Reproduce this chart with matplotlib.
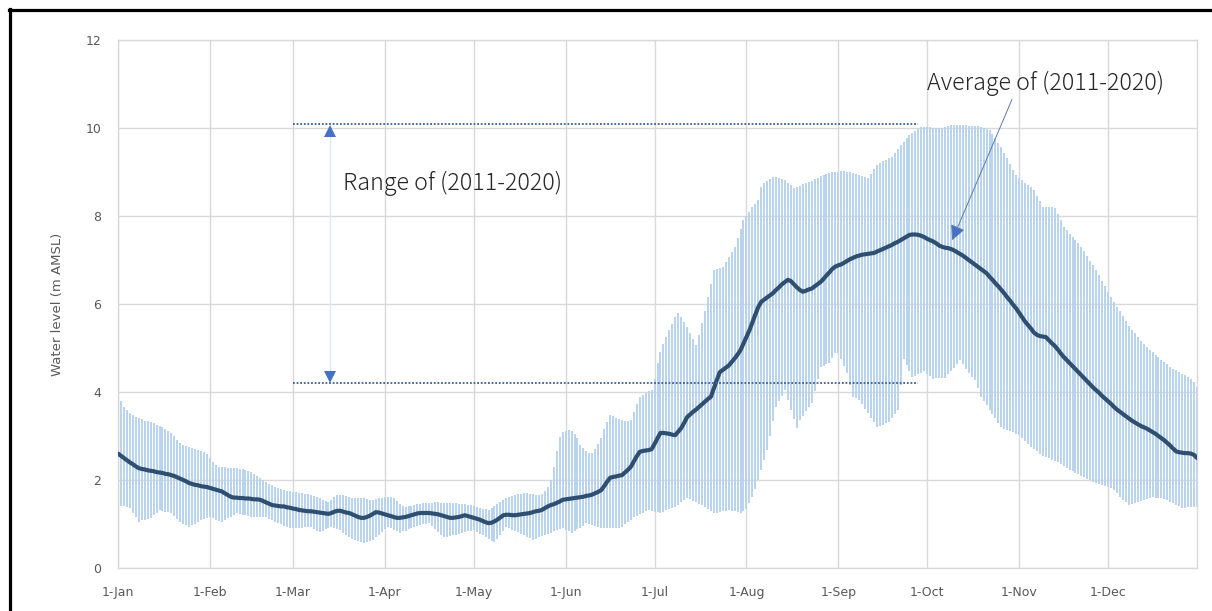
import matplotlib
matplotlib.use("Agg")
import matplotlib.pyplot as plt
import matplotlib.dates as mdates
from matplotlib.lines import Line2D
from matplotlib.ticker import FuncFormatter
import numpy as np
import pandas as pd

# daily water level statistics over 2011-2020, one value per calendar day
dates = pd.date_range("2021-01-01", "2021-12-31", freq="D")

level_avg = [
    # Jan
    2.60, 2.55, 2.50, 2.45, 2.40, 2.36, 2.31, 2.27, 2.25, 2.24, 2.22, 2.21, 2.20, 2.18, 2.17, 2.16,
    2.14, 2.13, 2.11, 2.09, 2.06, 2.03, 2.00, 1.97, 1.93, 1.91, 1.89, 1.88, 1.86, 1.85, 1.84,
    # Feb
    1.82, 1.80, 1.78, 1.76, 1.74, 1.70, 1.66, 1.62, 1.60, 1.60, 1.59, 1.59, 1.58, 1.58, 1.57, 1.56,
    1.56, 1.55, 1.52, 1.49, 1.46, 1.43, 1.42, 1.41, 1.40, 1.40, 1.38, 1.37,
    # Mar
    1.35, 1.34, 1.32, 1.31, 1.30, 1.29, 1.29, 1.28, 1.27, 1.26, 1.25, 1.24, 1.23, 1.25, 1.28, 1.30,
    1.30, 1.28, 1.26, 1.25, 1.22, 1.19, 1.16, 1.14, 1.14, 1.16, 1.19, 1.23, 1.27, 1.26, 1.24,
    # Apr
    1.22, 1.20, 1.18, 1.16, 1.14, 1.14, 1.15, 1.16, 1.18, 1.20, 1.22, 1.24, 1.25, 1.25, 1.25, 1.25,
    1.24, 1.23, 1.22, 1.20, 1.18, 1.16, 1.14, 1.14, 1.15, 1.16, 1.18, 1.20, 1.18, 1.16,
    # May
    1.14, 1.12, 1.10, 1.07, 1.04, 1.02, 1.03, 1.06, 1.10, 1.15, 1.20, 1.21, 1.21, 1.20, 1.20, 1.21,
    1.22, 1.23, 1.24, 1.25, 1.27, 1.29, 1.30, 1.32, 1.36, 1.40, 1.43, 1.45, 1.48, 1.51, 1.55,
    # Jun
    1.56, 1.57, 1.58, 1.59, 1.60, 1.61, 1.62, 1.64, 1.65, 1.67, 1.70, 1.73, 1.77, 1.86, 1.96, 2.05,
    2.07, 2.08, 2.10, 2.11, 2.17, 2.23, 2.30, 2.42, 2.54, 2.64, 2.66, 2.67, 2.68, 2.70,
    # Jul
    2.82, 2.95, 3.07, 3.07, 3.06, 3.05, 3.03, 3.02, 3.10, 3.18, 3.30, 3.43, 3.49, 3.55, 3.60, 3.66,
    3.72, 3.78, 3.84, 3.89, 4.08, 4.27, 4.45, 4.50, 4.55, 4.60, 4.68, 4.76, 4.85, 4.95, 5.10,
    # Aug
    5.25, 5.40, 5.58, 5.76, 5.93, 6.05, 6.10, 6.15, 6.20, 6.25, 6.32, 6.38, 6.45, 6.50, 6.55, 6.52,
    6.45, 6.38, 6.32, 6.28, 6.30, 6.33, 6.35, 6.40, 6.45, 6.50, 6.57, 6.65, 6.72, 6.80, 6.85,
    # Sep
    6.88, 6.90, 6.94, 6.98, 7.02, 7.05, 7.08, 7.10, 7.12, 7.13, 7.14, 7.15, 7.16, 7.19, 7.22, 7.25,
    7.28, 7.31, 7.34, 7.38, 7.41, 7.45, 7.49, 7.53, 7.57, 7.58, 7.58, 7.57, 7.55, 7.52,
    # Oct
    7.48, 7.45, 7.42, 7.38, 7.33, 7.30, 7.28, 7.27, 7.25, 7.22, 7.18, 7.14, 7.10, 7.05, 7.00, 6.95,
    6.90, 6.85, 6.80, 6.75, 6.70, 6.62, 6.55, 6.47, 6.40, 6.32, 6.24, 6.15, 6.07, 5.98, 5.90,
    # Nov
    5.80, 5.70, 5.60, 5.52, 5.44, 5.35, 5.30, 5.27, 5.26, 5.25, 5.18, 5.11, 5.05, 4.97, 4.88, 4.80,
    4.73, 4.66, 4.59, 4.52, 4.45, 4.38, 4.31, 4.24, 4.17, 4.10, 4.04, 3.98, 3.91, 3.85,
    # Dec
    3.79, 3.73, 3.66, 3.60, 3.55, 3.50, 3.45, 3.40, 3.35, 3.31, 3.27, 3.23, 3.20, 3.17, 3.13, 3.09,
    3.05, 3.00, 2.95, 2.90, 2.84, 2.78, 2.71, 2.65, 2.63, 2.62, 2.61, 2.61, 2.60, 2.57, 2.50,
]

level_max = [
    # Jan
    3.93, 3.80, 3.66, 3.58, 3.52, 3.48, 3.44, 3.40, 3.38, 3.35, 3.33, 3.32, 3.30, 3.26, 3.23, 3.20,
    3.16, 3.12, 3.07, 3.00, 2.92, 2.84, 2.80, 2.78, 2.75, 2.73, 2.71, 2.69, 2.67, 2.64, 2.58,
    # Feb
    2.50, 2.42, 2.35, 2.30, 2.30, 2.29, 2.28, 2.28, 2.27, 2.27, 2.26, 2.25, 2.23, 2.20, 2.18, 2.14,
    2.10, 2.05, 2.00, 1.96, 1.92, 1.88, 1.85, 1.82, 1.80, 1.78, 1.76, 1.75,
    # Mar
    1.73, 1.72, 1.71, 1.70, 1.69, 1.68, 1.66, 1.64, 1.62, 1.58, 1.55, 1.52, 1.50, 1.55, 1.62, 1.66,
    1.67, 1.66, 1.64, 1.62, 1.60, 1.60, 1.59, 1.59, 1.58, 1.56, 1.55, 1.55, 1.57, 1.58, 1.60,
    # Apr
    1.61, 1.62, 1.62, 1.58, 1.52, 1.46, 1.42, 1.39, 1.40, 1.42, 1.44, 1.45, 1.46, 1.47, 1.48, 1.48,
    1.48, 1.49, 1.49, 1.48, 1.48, 1.48, 1.48, 1.47, 1.47, 1.46, 1.46, 1.45, 1.44, 1.43,
    # May
    1.41, 1.39, 1.37, 1.35, 1.33, 1.32, 1.36, 1.41, 1.46, 1.50, 1.55, 1.59, 1.62, 1.64, 1.66, 1.68,
    1.69, 1.70, 1.70, 1.69, 1.68, 1.67, 1.66, 1.68, 1.75, 1.85, 2.00, 2.30, 2.65, 2.98, 3.08,
    # Jun
    3.12, 3.14, 3.12, 3.05, 2.95, 2.80, 2.72, 2.66, 2.62, 2.61, 2.70, 2.82, 2.95, 3.15, 3.32, 3.48,
    3.46, 3.42, 3.38, 3.36, 3.35, 3.35, 3.36, 3.55, 3.72, 3.89, 3.94, 3.98, 4.02, 4.05,
    # Jul
    4.30, 4.66, 4.90, 5.08, 5.25, 5.40, 5.55, 5.70, 5.80, 5.70, 5.60, 5.48, 5.35, 5.20, 5.07, 5.30,
    5.57, 5.85, 6.15, 6.45, 6.77, 6.80, 6.82, 6.84, 6.95, 7.07, 7.18, 7.30, 7.50, 7.70, 7.90,
    # Aug
    8.00, 8.10, 8.20, 8.28, 8.36, 8.66, 8.74, 8.80, 8.85, 8.89, 8.88, 8.86, 8.84, 8.82, 8.76, 8.70,
    8.64, 8.66, 8.69, 8.72, 8.74, 8.77, 8.80, 8.83, 8.86, 8.90, 8.93, 8.95, 8.97, 8.99, 9.00,
    # Sep
    9.01, 9.02, 9.02, 9.01, 9.00, 8.98, 8.96, 8.93, 8.90, 8.88, 8.86, 8.96, 9.06, 9.16, 9.20, 9.24,
    9.28, 9.31, 9.34, 9.43, 9.52, 9.61, 9.69, 9.77, 9.84, 9.89, 9.94, 9.98, 10.02, 10.03,
    # Oct
    10.03, 10.02, 10.01, 10.00, 10.00, 10.00, 10.02, 10.04, 10.06, 10.07, 10.07, 10.07, 10.06, 10.06,
    10.05, 10.05, 10.05, 10.04, 10.03, 10.01, 9.98, 9.95, 9.86, 9.77, 9.67, 9.57, 9.44, 9.31, 9.18,
    9.05, 8.93,
    # Nov
    8.87, 8.81, 8.75, 8.70, 8.65, 8.59, 8.46, 8.33, 8.20, 8.20, 8.21, 8.20, 8.18, 8.04, 7.90, 7.75,
    7.68, 7.60, 7.52, 7.45, 7.38, 7.30, 7.20, 7.09, 6.98, 6.88, 6.77, 6.65, 6.53, 6.40,
    # Dec
    6.28, 6.16, 6.05, 5.94, 5.83, 5.72, 5.62, 5.51, 5.41, 5.33, 5.25, 5.17, 5.10, 5.03, 4.95, 4.90,
    4.84, 4.79, 4.73, 4.68, 4.63, 4.57, 4.53, 4.49, 4.46, 4.42, 4.38, 4.34, 4.30, 4.22, 4.11,
]

level_min = [
    # Jan
    1.43, 1.41, 1.40, 1.38, 1.36, 1.25, 1.15, 1.05, 1.08, 1.10, 1.12, 1.14, 1.20, 1.26, 1.32, 1.30,
    1.28, 1.27, 1.25, 1.18, 1.11, 1.05, 1.01, 0.97, 0.93, 0.97, 1.01, 1.05, 1.09, 1.11, 1.14,
    # Feb
    1.16, 1.13, 1.10, 1.07, 1.05, 1.09, 1.13, 1.17, 1.21, 1.25, 1.23, 1.21, 1.20, 1.18, 1.16, 1.16,
    1.16, 1.16, 1.16, 1.16, 1.12, 1.09, 1.05, 1.02, 0.99, 0.96, 0.94, 0.92,
    # Mar
    0.91, 0.91, 0.92, 0.92, 0.93, 0.93, 0.93, 0.89, 0.85, 0.82, 0.85, 0.88, 0.91, 0.93, 0.91, 0.88,
    0.86, 0.80, 0.75, 0.70, 0.67, 0.64, 0.61, 0.59, 0.57, 0.59, 0.61, 0.64, 0.70, 0.76, 0.82,
    # Apr
    0.88, 0.93, 0.90, 0.87, 0.84, 0.80, 0.83, 0.85, 0.88, 0.90, 0.93, 0.95, 0.97, 0.99, 1.00, 1.02,
    0.95, 0.88, 0.81, 0.75, 0.70, 0.71, 0.72, 0.74, 0.75, 0.77, 0.79, 0.81, 0.83, 0.85,
    # May
    0.86, 0.82, 0.78, 0.74, 0.70, 0.66, 0.62, 0.59, 0.67, 0.76, 0.85, 0.93, 0.90, 0.87, 0.84, 0.81,
    0.78, 0.75, 0.71, 0.68, 0.64, 0.67, 0.70, 0.72, 0.75, 0.77, 0.80, 0.83, 0.86, 0.88, 0.91,
    # Jun
    0.87, 0.84, 0.80, 0.84, 0.88, 0.92, 0.96, 1.02, 1.00, 0.98, 0.96, 0.94, 0.92, 0.91, 0.91, 0.91,
    0.92, 0.92, 0.92, 0.93, 0.99, 1.04, 1.10, 1.16, 1.19, 1.22, 1.26, 1.29, 1.32, 1.30,
    # Jul
    1.28, 1.27, 1.25, 1.28, 1.31, 1.34, 1.36, 1.39, 1.44, 1.49, 1.54, 1.59, 1.56, 1.53, 1.49, 1.46,
    1.43, 1.39, 1.35, 1.30, 1.25, 1.26, 1.28, 1.29, 1.30, 1.32, 1.30, 1.29, 1.27, 1.25, 1.30,
    # Aug
    1.35, 1.48, 1.61, 1.80, 2.00, 2.23, 2.45, 2.68, 3.00, 3.33, 3.66, 3.79, 3.92, 4.05, 3.82, 3.59,
    3.38, 3.18, 3.36, 3.46, 3.56, 3.65, 3.75, 4.02, 4.30, 4.57, 4.60, 4.63, 4.66, 4.78, 4.89,
    # Sep
    4.89, 4.75, 4.60, 4.43, 4.16, 3.89, 3.86, 3.82, 3.72, 3.62, 3.52, 3.41, 3.31, 3.20, 3.23, 3.26,
    3.29, 3.32, 3.41, 3.50, 3.60, 4.15, 4.75, 4.61, 4.48, 4.34, 4.37, 4.40, 4.44, 4.47,
    # Oct
    4.41, 4.36, 4.30, 4.31, 4.31, 4.32, 4.32, 4.40, 4.47, 4.55, 4.64, 4.73, 4.63, 4.53, 4.43, 4.35,
    4.27, 4.08, 3.89, 3.79, 3.70, 3.60, 3.50, 3.40, 3.30, 3.20, 3.17, 3.14, 3.11, 3.08, 3.05,
    # Nov
    3.03, 2.96, 2.89, 2.82, 2.75, 2.70, 2.65, 2.60, 2.55, 2.52, 2.49, 2.46, 2.44, 2.41, 2.37, 2.32,
    2.28, 2.23, 2.20, 2.17, 2.14, 2.10, 2.07, 2.03, 1.99, 1.95, 1.93, 1.90, 1.88, 1.86,
    # Dec
    1.84, 1.81, 1.78, 1.70, 1.62, 1.55, 1.50, 1.43, 1.46, 1.48, 1.50, 1.52, 1.55, 1.57, 1.59, 1.61,
    1.60, 1.59, 1.58, 1.56, 1.55, 1.51, 1.47, 1.44, 1.40, 1.36, 1.37, 1.38, 1.38, 1.39, 1.39,
]

# overall extremes marked by the dotted guide lines
range_top = 10.1
range_bottom = 4.2

grid_color = "#d9d9d9"
text_color = "#595959"

fig = plt.figure(figsize=(12.12, 6.11), dpi=100)
ax = fig.add_axes([118 / 1212, 1 - 568 / 611, 1079 / 1212, 528 / 611])

x = mdates.date2num(dates)
ax.vlines(x, level_min, level_max, color="#b7d2ec", linewidth=1.35, zorder=2)
ax.plot(x, level_avg, color="#2f4f70", linewidth=3.0, solid_capstyle="round", zorder=3)

ax.set_xlim(x[0], x[-1])
ax.set_ylim(0, 12)
ax.set_yticks(range(0, 13, 2))
ax.xaxis.set_major_locator(mdates.MonthLocator())
ax.xaxis.set_major_formatter(FuncFormatter(lambda v, p: "{}-{}".format(mdates.num2date(v).day, mdates.num2date(v).strftime("%b"))))

ax.grid(True, color=grid_color, linewidth=1.0, zorder=0)
ax.set_axisbelow(True)
for s in ax.spines.values():
    s.set_color(grid_color)
    s.set_linewidth(1.0)
ax.tick_params(length=0, labelsize=9, labelcolor=text_color)
ax.tick_params(axis="x", pad=13)
ax.tick_params(axis="y", pad=12)
ax.set_ylabel("Water level (m AMSL)", fontsize=9.5, color=text_color)
ax.yaxis.set_label_coords(-0.05, 0.5)

# dotted guides at the highest and lowest levels of the period
d_start = mdates.date2num(pd.Timestamp("2021-03-01"))
d_end = mdates.date2num(pd.Timestamp("2021-09-28"))
for yv in (range_top, range_bottom):
    ax.plot([d_start, d_end], [yv, yv], color="#3d5f94", linewidth=1.3,
            linestyle=(0, (1, 1)), zorder=4)

# double-headed marker between the two guides
d_arrow = mdates.date2num(pd.Timestamp("2021-03-13 14:00"))
ax.plot([d_arrow, d_arrow], [range_bottom + 0.1, range_top - 0.1], color="#dce9f6",
        linewidth=1.0, zorder=4)
ax.plot(d_arrow, range_top - 0.16, marker="^", markersize=9, color="#4472c4",
        markeredgewidth=0, zorder=5)
ax.plot(d_arrow, range_bottom + 0.15, marker="v", markersize=9, color="#4472c4",
        markeredgewidth=0, zorder=5)

label_font = ["Noto Sans CJK JP", "DejaVu Sans"]
ax.text(mdates.date2num(pd.Timestamp("2021-03-18")), 8.75, "Range of (2011-2020)",
        fontsize=16.8, family=label_font, fontweight="light", va="center", ha="left",
        color="#262626")

ax.annotate("", xy=(mdates.date2num(pd.Timestamp("2021-10-09 10:00")), 7.45),
            xytext=(mdates.date2num(pd.Timestamp("2021-10-29 14:00")), 10.65),
            arrowprops=dict(arrowstyle="-|>,head_length=0.9,head_width=0.45",
                            fc="#4472c4", ec="#5b7ba8", lw=0.7, shrinkA=0, shrinkB=0),
            zorder=6)
ax.text(mdates.date2num(pd.Timestamp("2021-10-01")), 11.02, "Average of (2011-2020)",
        fontsize=16.8, family=label_font, fontweight="light", va="center", ha="left",
        color="#262626")

# frame lines along the top and left edge of the figure
fig.add_artist(Line2D([8.5 / 1212, 1], [1 - 10 / 611, 1 - 10 / 611], color="black",
                      linewidth=2.3, transform=fig.transFigure))
fig.add_artist(Line2D([9.5 / 1212, 9.5 / 1212], [0, 1 - 9 / 611], color="black",
                      linewidth=2.3, transform=fig.transFigure))

fig.savefig("out.png", dpi=100, facecolor="white")
